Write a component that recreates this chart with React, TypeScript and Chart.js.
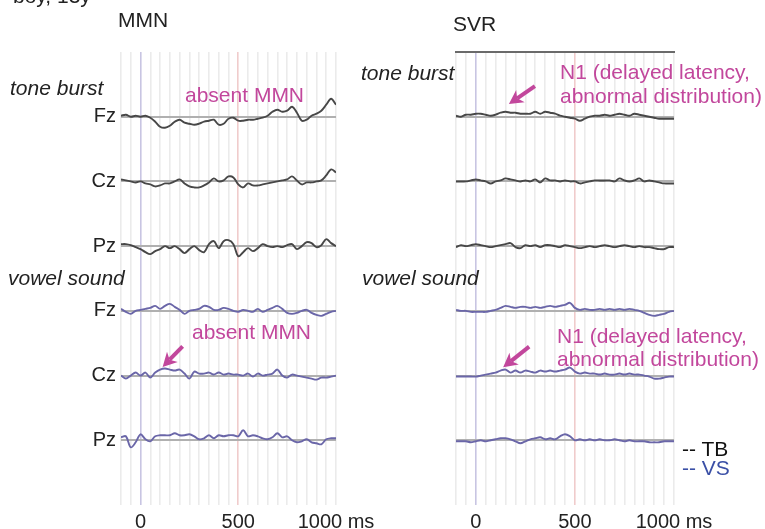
import React, { useEffect, useRef } from "react";
import { Chart, registerables } from "chart.js";

Chart.register(...registerables);

// ---------- data ----------
const TIMES = [
  -100, -75, -50, -25, 0, 25, 50, 75, 100, 125, 150, 175, 200, 225, 250, 275, 300, 325, 350, 375,
  400, 425, 450, 475, 500, 525, 550, 575, 600, 625, 650, 675, 700, 725, 750, 775, 800, 825, 850, 875,
  900, 925, 950, 975, 1000,
];
const CHANNELS = ["Fz", "Cz", "Pz", "Fz", "Cz", "Pz"];
const ROW_VALUES = [0, -1, -2, -3, -4, -5];
const X_TICK_LABELS: Record<number, string> = { 0: "0", 500: "500", 1000: "1000 ms" };

// MMN, tone burst (TB)
const mmnTbFz = [1, 2, 0, 1, 0, 1, -1, -5, -10, -11, -9, -5, -3, -6, -7, -8, -7, -5, -4, -3, -8, -7, -2, -1, -4, -4, -3, -3, -2, -1, 1, 5, 7, 5, 6, 10, 4, -4, -3, 1, 3, 6, 12, 18, 12];
const mmnTbCz = [2, 1, 0, -1, 0, -2, -3, -5, -4, -2, -2, 0, 2, -2, -5, -6, -6, -4, -1, 3, 0, 1, 5, 4, -3, -6, -2, -4, -4, -3, -2, -1, 0, 1, 2, 5, 1, -3, -1, -1, 0, 1, 6, 12, 9];
const mmnTbPz = [2, 2, 1, -1, -3, -6, -8, -5, -3, 0, -2, 0, -3, -7, -3, 0, -4, -6, 2, 5, -2, 5, 6, 2, -10, -6, -2, -5, -2, 2, 0, -1, 0, -1, 1, 2, -3, 0, 4, 3, -1, 1, 7, 3, 0];
// MMN, vowel sound (VS)
const mmnVsFz = [2, -1, -3, 0, 1, 2, 3, 5, 2, 5, 7, 4, 1, -3, 0, 1, 2, 5, 4, 1, 1, 3, 2, 0, -1, 1, 0, -1, 2, -1, 1, 3, 5, 2, -2, -3, -2, 0, 1, -2, -4, -5, -3, -1, 0];
const mmnVsCz = [0, -3, 0, 3, 0, 3, -2, 3, 6, 7, 6, 5, 6, 2, -3, 4, 2, 2, 3, 1, 3, 1, 2, 1, 1, 0, 2, -1, 2, 0, 1, 2, 6, 0, -2, 1, 0, -1, -2, -3, -4, -2, -2, -1, 0];
const mmnVsPz = [3, 4, -7, -2, 6, 1, -1, 4, 5, 5, 5, 7, 5, 5, 6, 4, 1, 2, 5, 2, 5, 4, 5, 5, 4, 10, 4, 5, 4, 2, 1, 3, 7, 3, 4, 0, -2, -1, 1, -2, -3, -4, 1, 2, 2];
// SVR, tone burst (TB)
const svrTbFz = [1, 0, 2, 2, 3, 3, 2, 1, 2, 4, 5, 4, 4, 3, 3, 3, 5, 3, 5, 4, 3, 1, 0, -1, -2, -4, -2, 0, 1, 1, 2, 1, 2, 3, 2, 1, 3, 2, 1, 0, -1, -2, -2, -2, -2];
const svrTbCz = [0, 0, 0, 1, 2, 1, 0, -2, 0, 1, 3, 2, 1, 0, 1, 0, 2, -1, 3, 1, 1, 0, 1, 0, 0, -2, -1, 0, 1, 1, 1, 1, 0, 3, 1, 0, 1, 3, 0, 1, 0, -1, -2, -2, -2];
const svrTbPz = [-1, 1, 0, 1, 2, 1, 0, -1, 0, 1, 2, 3, -1, -2, 1, 0, 1, -1, 1, 1, 0, -1, 1, 0, -1, -2, -1, 0, -1, 0, 1, 0, -1, 0, 1, 0, -1, 0, -1, -1, -2, -3, -3, -1, -1];
// SVR, vowel sound (VS)
const svrVsFz = [1, 0, 0, -1, -1, -1, -1, 0, 1, 3, 5, 4, 3, 4, 4, 3, 4, 3, 4, 5, 4, 5, 6, 8, 3, 1, 2, 1, 1, 2, 1, 2, 1, 2, 1, 2, 1, 0, -2, -4, -5, -4, -3, -1, 0];
const svrVsCz = [-1, -1, -1, -1, -1, 0, 1, 2, 3, 5, 6, 3, 5, 3, 5, 4, 3, 5, 4, 5, 4, 5, 6, 8, 4, 2, 3, 2, 2, 1, 2, 1, 1, 2, 1, 2, 1, 1, 0, -1, -3, -3, -2, -1, -1];
const svrVsPz = [-1, -1, -1, -2, -1, 0, -1, 0, 1, 2, 2, 1, -1, -3, -1, 1, 2, 3, 1, 2, 1, 4, 6, 4, 0, 1, 0, 1, 0, 1, 0, 0, 1, 0, -1, 0, -1, -1, -1, -2, -2, -2, -1, -1, -1];

// ---------- style ----------
const FONT = '"Liberation Sans", Arial, Helvetica, sans-serif';
const AMP_PER_ROW = 64.7;
const TB_COLOR = "#474747";
const VS_COLOR = "#6a66a8";
const NOTE_COLOR = "#c2479c";
const GRID_GRAY = "#ebebeb";
const GRID_ZERO = "#c8c5e2";
const GRID_500 = "#f0cccc";
const BASELINE = "#b0b0b0";

type Arrow = { t: number; y: number; dx: number; dy: number };

const arrowPlugin = {
  id: "arrows",
  afterDatasetsDraw(chart: any, _args: any, opts: any) {
    const items: Arrow[] = (opts && opts.items) || [];
    const ctx = chart.ctx;
    const xs = chart.scales.x;
    const ys = chart.scales.y;
    items.forEach((a) => {
      const hx = xs.getPixelForValue(a.t);
      const hy = ys.getPixelForValue(a.y);
      const tx = hx + a.dx;
      const ty = hy + a.dy;
      const ang = Math.atan2(hy - ty, hx - tx);
      const c = Math.cos(ang);
      const s = Math.sin(ang);
      const headLen = 14;
      const headW = 7.5;
      const bx = hx - headLen * c;
      const by = hy - headLen * s;
      ctx.save();
      ctx.strokeStyle = NOTE_COLOR;
      ctx.fillStyle = NOTE_COLOR;
      ctx.lineWidth = 4;
      ctx.beginPath();
      ctx.moveTo(tx, ty);
      ctx.lineTo(bx + 4 * c, by + 4 * s);
      ctx.stroke();
      ctx.beginPath();
      ctx.moveTo(hx, hy);
      ctx.lineTo(bx + headW * s, by - headW * c);
      ctx.lineTo(hx - (headLen - 4) * c, hy - (headLen - 4) * s);
      ctx.lineTo(bx - headW * s, by + headW * c);
      ctx.closePath();
      ctx.fill();
      ctx.restore();
    });
  },
};

function buildDatasets(tb: number[][], vs: number[][]) {
  const rows = [
    ...tb.map((s) => ({ s, color: TB_COLOR })),
    ...vs.map((s) => ({ s, color: VS_COLOR })),
  ];
  return rows.map((r, k) => ({
    data: TIMES.map((t, i) => ({ x: t, y: ROW_VALUES[k] + r.s[i] / AMP_PER_ROW })),
    borderColor: r.color,
    borderWidth: 1.9,
    pointRadius: 0,
    tension: 0.35,
    fill: false,
  }));
}

type PanelProps = {
  left: number;
  width: number;
  yWidth: number;
  padRight: number;
  showChannels: boolean;
  topBorder: boolean;
  tb: number[][];
  vs: number[][];
  arrows: Arrow[];
};

function Panel(p: PanelProps) {
  const ref = useRef<HTMLCanvasElement | null>(null);
  useEffect(() => {
    if (!ref.current) return;
    const scales: any = {
      x: {
        type: "linear",
        min: -100,
        max: 1000,
        ticks: {
          stepSize: 50,
          autoSkip: false,
          maxRotation: 0,
          minRotation: 0,
          padding: 5,
          color: "#222",
          font: { family: FONT, size: 20 },
          callback: (v: number) => X_TICK_LABELS[v] ?? "",
        },
        grid: {
          drawTicks: false,
          lineWidth: 1.6,
          color: (c: any) =>
            c.tick && c.tick.value === 0 ? GRID_ZERO : c.tick && c.tick.value === 500 ? GRID_500 : GRID_GRAY,
        },
        border: { display: false },
        afterFit: (s: any) => {
          s.height = 24;
        },
      },
      y: {
        type: "linear",
        min: -6,
        max: 1,
        afterBuildTicks: (s: any) => {
          s.ticks = ROW_VALUES.map((v) => ({ value: v }));
        },
        ticks: {
          display: p.showChannels,
          padding: 5,
          color: "#222",
          font: { family: FONT, size: 20 },
          callback: (v: number) => CHANNELS[-v],
        },
        grid: { drawTicks: false, color: BASELINE, lineWidth: 2 },
        border: { display: false },
        afterFit: (s: any) => {
          s.width = p.yWidth;
        },
      },
    };
    if (p.topBorder) {
      scales.xTop = {
        type: "linear",
        position: "top",
        min: -100,
        max: 1000,
        ticks: { display: false },
        grid: { display: false, drawTicks: false },
        border: { display: true, color: "#6a6a6a", width: 2 },
        afterFit: (s: any) => {
          s.height = 0;
        },
      };
    }
    const chart = new Chart(ref.current, {
      type: "line",
      data: { datasets: buildDatasets(p.tb, p.vs) as any },
      options: {
        responsive: false,
        maintainAspectRatio: false,
        animation: false,
        devicePixelRatio: 1,
        layout: { padding: { top: 52, right: p.padRight, bottom: 0, left: 0 } },
        scales,
        plugins: {
          legend: { display: false },
          tooltip: { enabled: false },
          arrows: { items: p.arrows },
        } as any,
      },
      plugins: [arrowPlugin as any],
    });
    return () => chart.destroy();
  }, []);
  return (
    <canvas
      ref={ref}
      width={p.width}
      height={529}
      style={{ position: "absolute", left: p.left, top: 0, width: p.width, height: 529 }}
    />
  );
}

type TextItem = { text: string; x: number; base: number; italic?: boolean; color?: string };

const TEXTS: TextItem[] = [
  { text: "boy, 13y", x: 13, base: 3 },
  { text: "MMN", x: 118, base: 27 },
  { text: "SVR", x: 453, base: 31 },
  { text: "tone burst", x: 10, base: 95, italic: true },
  { text: "tone burst", x: 361, base: 80, italic: true },
  { text: "vowel sound", x: 8, base: 285, italic: true },
  { text: "vowel sound", x: 362, base: 285, italic: true },
  { text: "absent MMN", x: 185, base: 102, color: NOTE_COLOR },
  { text: "absent MMN", x: 192, base: 339, color: NOTE_COLOR },
  { text: "N1 (delayed latency,", x: 560, base: 79, color: NOTE_COLOR },
  { text: "abnormal distribution)", x: 560, base: 103, color: NOTE_COLOR },
  { text: "N1 (delayed latency,", x: 557, base: 343, color: NOTE_COLOR },
  { text: "abnormal distribution)", x: 557, base: 366, color: NOTE_COLOR },
  { text: "-- TB", x: 682, base: 456, color: "#111" },
  { text: "-- VS", x: 682, base: 475, color: "#3a4fa6" },
];

const TEXT_SIZE = 21;

export default function App() {
  return (
    <div
      style={{
        position: "absolute",
        left: 0,
        top: 0,
        width: 765,
        height: 529,
        overflow: "hidden",
        background: "#fff",
        fontFamily: FONT,
      }}
    >
      <Panel
        left={0}
        width={380}
        yWidth={121}
        padRight={44}
        showChannels={true}
        topBorder={false}
        tb={[mmnTbFz, mmnTbCz, mmnTbPz]}
        vs={[mmnVsFz, mmnVsCz, mmnVsPz]}
        arrows={[{ t: 113, y: -3.866, dx: 20, dy: -20.6 }]}
      />
      <Panel
        left={380}
        width={385}
        yWidth={76}
        padRight={91}
        showChannels={false}
        topBorder={true}
        tb={[svrTbFz, svrTbCz, svrTbPz]}
        vs={[svrVsFz, svrVsCz, svrVsPz]}
        arrows={[
          { t: 167, y: 0.196, dx: 26, dy: -18 },
          { t: 138, y: -3.872, dx: 26, dy: -20.6 },
        ]}
      />
      {TEXTS.map((t, i) => (
        <div
          key={i}
          style={{
            position: "absolute",
            left: t.x,
            top: t.base - Math.round(0.8465 * TEXT_SIZE),
            fontSize: TEXT_SIZE,
            lineHeight: `${TEXT_SIZE}px`,
            fontStyle: t.italic ? "italic" : "normal",
            color: t.color || "#222",
            whiteSpace: "nowrap",
          }}
        >
          {t.text}
        </div>
      ))}
    </div>
  );
}
